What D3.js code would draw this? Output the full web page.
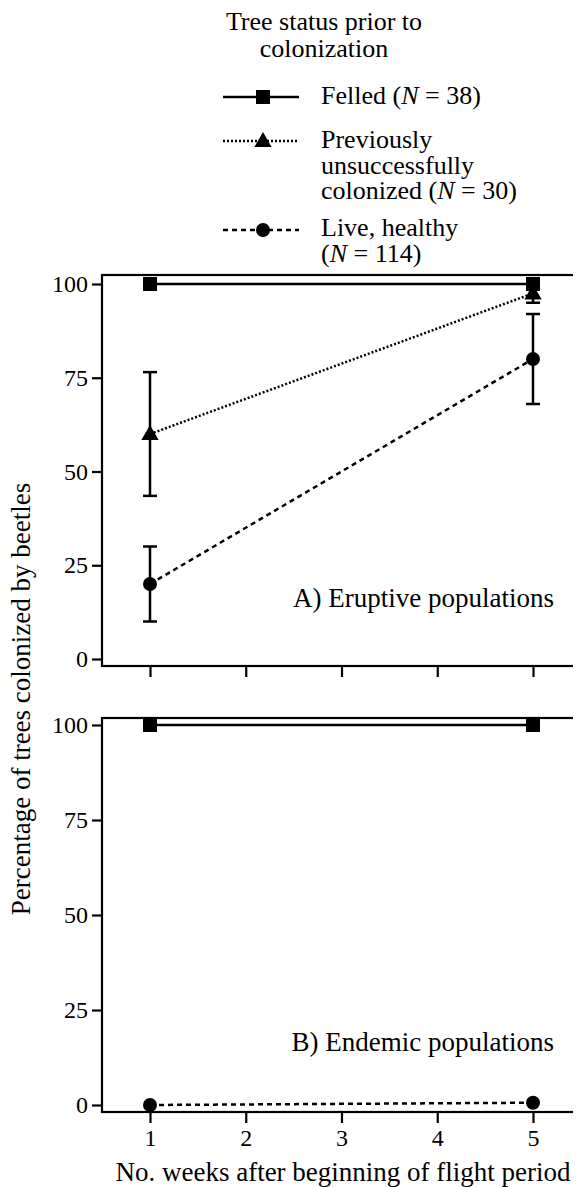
<!DOCTYPE html>
<html><head><meta charset="utf-8">
<script src="https://cdn.jsdelivr.net/npm/d3@7"></script>
</head><body>
<script>
const weeks = [1, 5];
const xTicks = [1, 2, 3, 4, 5];
const yTicks = [0, 25, 50, 75, 100];
// Panel A: eruptive populations
const eruptFelled = [100, 100];
const eruptPrev = [60, 97.5];
const eruptPrevLo = [43.5, 95];
const eruptPrevHi = [76.5, 100];
const eruptLive = [20, 80];
const eruptLiveLo = [10, 68];
const eruptLiveHi = [30, 92];
// Panel B: endemic populations
const endemFelled = [100, 100];
const endemLive = [0, 0.6];
const seriesNames = ["Felled", "Previously", "Live"];

const f = "Liberation Serif";
const FONT = `"${f}"`;
// body keeps its default 8px margin; the root group shifts everything back
const svg = d3.select("body").append("svg").attr("width", 573).attr("height", 1179);
const root = svg.append("g").attr("transform", "translate(-8,-8)");
const x = d3.scaleLinear().domain([1, 5]).range([150, 533]);

const panels = [
  {top: 275, bottom: 666, y0: 659, y100: 284, label: "A) Eruptive populations", labelY: 607, showX: false,
   series: [
     {v: eruptFelled, style: "solid", marker: "square"},
     {v: eruptPrev, lo: eruptPrevLo, hi: eruptPrevHi, style: "dotted", marker: "triangle"},
     {v: eruptLive, lo: eruptLiveLo, hi: eruptLiveHi, style: "dashed", marker: "circle"}]},
  {top: 718, bottom: 1112, y0: 1105, y100: 725, label: "B) Endemic populations", labelY: 1051, showX: true,
   series: [
     {v: endemFelled, style: "solid", marker: "square"},
     {v: endemLive, style: "dashed", marker: "circle"}]}
];
const dashFor = {solid: null, dotted: "2,2", dashed: "5,4"};

function drawMarker(g, type, cx, cy) {
  if (type === "square") g.append("rect").attr("x", cx - 7).attr("y", cy - 7).attr("width", 14).attr("height", 14).attr("fill", "#000");
  else if (type === "circle") g.append("circle").attr("cx", cx).attr("cy", cy).attr("r", 7).attr("fill", "#000");
  else g.append("path").attr("d", d3.symbol(d3.symbolTriangle, 130)()).attr("transform", `translate(${cx},${cy + 1})`).attr("fill", "#000");
}

panels.forEach(p => {
  const y = d3.scaleLinear().domain([0, 100]).range([p.y0, p.y100]);
  const g = root.append("g");
  g.append("rect").attr("x", 102).attr("y", p.top).attr("width", 477).attr("height", p.bottom - p.top)
    .attr("fill", "none").attr("stroke", "#000").attr("stroke-width", 2.2);
  const ya = g.append("g").attr("transform", "translate(102,0)")
    .call(d3.axisLeft(y).tickValues(yTicks).tickSize(10).tickPadding(4));
  ya.attr("font-family", null).attr("font-size", null);
  ya.selectAll("text").attr("font-family", FONT).attr("font-size", 24);
  ya.select(".domain").remove();
  ya.selectAll("line").attr("stroke-width", 2.2);
  const xa = g.append("g").attr("transform", `translate(0,${p.bottom})`)
    .call(d3.axisBottom(x).tickValues(xTicks).tickSize(11).tickPadding(6).tickFormat(p.showX ? d3.format("d") : ""));
  xa.attr("font-family", null).attr("font-size", null);
  xa.selectAll("text").attr("font-family", FONT).attr("font-size", 24);
  xa.select(".domain").remove();
  xa.selectAll("line").attr("stroke-width", 2.2);
  p.series.forEach(s => {
    const line = d3.line().x((d, i) => x(weeks[i])).y(d => y(d));
    g.append("path").datum(s.v).attr("d", line).attr("fill", "none").attr("stroke", "#000")
      .attr("stroke-width", 2.5).attr("stroke-dasharray", dashFor[s.style]);
    if (s.lo) {
      s.v.forEach((d, i) => {
        const cx = x(weeks[i]);
        g.append("line").attr("x1", cx).attr("x2", cx).attr("y1", y(s.lo[i])).attr("y2", y(s.hi[i])).attr("stroke", "#000").attr("stroke-width", 2.5);
        [s.lo[i], s.hi[i]].forEach(e => g.append("line").attr("x1", cx - 7).attr("x2", cx + 7).attr("y1", y(e)).attr("y2", y(e)).attr("stroke", "#000").attr("stroke-width", 2.5));
      });
    }
    s.v.forEach((d, i) => drawMarker(g, s.marker, x(weeks[i]), y(d)));
  });
  g.append("text").attr("x", 554).attr("y", p.labelY).attr("text-anchor", "end").attr("font-size", 27).attr("font-family", FONT).text(p.label);
});

root.append("text").attr("transform", "translate(30,699) rotate(-90)").attr("text-anchor", "middle").attr("font-size", 27).attr("font-family", FONT)
  .text("Percentage of trees colonized by beetles");
root.append("text").attr("x", 343).attr("y", 1181).attr("text-anchor", "middle").attr("font-size", 27).attr("font-family", FONT)
  .text("No. weeks after beginning of flight period");

const lg = root.append("g");
lg.append("text").attr("x", 324).attr("y", 30).attr("text-anchor", "middle").attr("font-size", 26).attr("font-family", FONT).text("Tree status prior to");
lg.append("text").attr("x", 324).attr("y", 57).attr("text-anchor", "middle").attr("font-size", 26).attr("font-family", FONT).text("colonization");
const legendItems = [
  {name: seriesNames[0], style: "solid", marker: "square", my: 97, lines: [{t: "Felled (", n: true, after: " = 38)"}], base: 104},
  {name: seriesNames[1], style: "dotted", marker: "triangle", my: 141, lines: [{t: "Previously"}, {t: "unsuccessfully"}, {t: "colonized (", n: true, after: " = 30)"}], base: 148},
  {name: seriesNames[2], style: "dashed", marker: "circle", my: 230, lines: [{t: "Live, healthy"}, {t: "(", n: true, after: " = 114)"}], base: 236}
];
legendItems.forEach(it => {
  lg.append("line").attr("x1", 223).attr("x2", 299).attr("y1", it.my).attr("y2", it.my).attr("stroke", "#000")
    .attr("stroke-width", 2.5).attr("stroke-dasharray", dashFor[it.style]);
  drawMarker(lg, it.marker, 263, it.my);
  it.lines.forEach((l, k) => {
    const t = lg.append("text").attr("x", 321).attr("y", it.base + k * 25.5).attr("font-size", 26).attr("font-family", FONT);
    t.append("tspan").text(l.t);
    if (l.n) { t.append("tspan").attr("font-style", "italic").text("N"); t.append("tspan").text(l.after); }
  });
});
</script>
</body></html>
